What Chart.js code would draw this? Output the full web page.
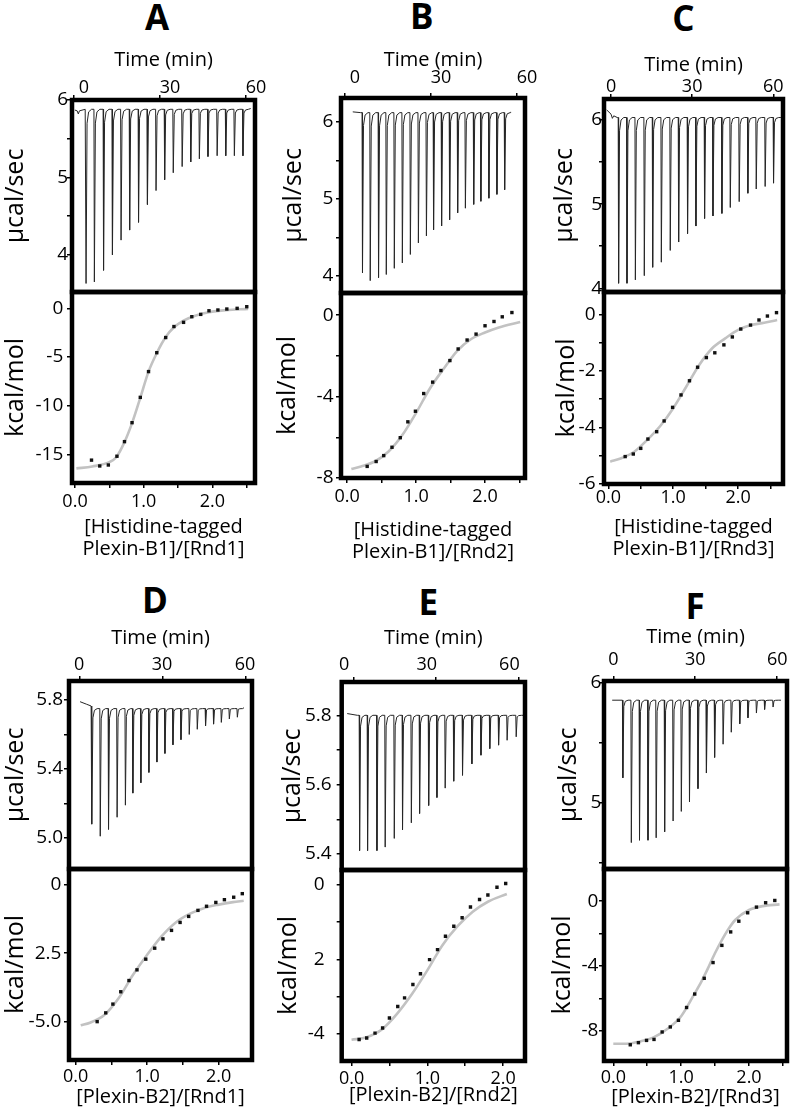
<!DOCTYPE html>
<html>
<head>
<meta charset="utf-8">
<script src="https://cdn.jsdelivr.net/npm/chart.js@4"></script>
<style>
  html, body { margin: 0; padding: 0; background: #fff; }
  body { width: 790px; height: 1110px; position: relative; overflow: hidden; font-family: 'Open Sans', sans-serif; }
  canvas { position: absolute; }
  .lbl { position: absolute; font-family: 'Open Sans', sans-serif; font-weight: 700; font-size: 35px; line-height: 35px; color: #000; transform: translateX(-50%); }
</style>
</head>
<body>
<script>
// ---------------- DATA ----------------
const panelLetters = ['A', 'B', 'C', 'D', 'E', 'F'];
const timeTickValues = [0, 30, 60];
const timeTickText = ['0', '30', '60'];
const ratioTickValues = [0, 1, 2];
const ratioTickText = ['0.0', '1.0', '2.0'];
const topTitle = 'Time (min)';
const topYTitle = 'µcal/sec';
const botYTitle = 'kcal/mol';
const xTitles = [
  ['[Histidine-tagged', 'Plexin-B1]/[Rnd1]'],
  ['[Histidine-tagged', 'Plexin-B1]/[Rnd2]'],
  ['[Histidine-tagged', 'Plexin-B1]/[Rnd3]'],
  '[Plexin-B2]/[Rnd1]',
  '[Plexin-B2]/[Rnd2]',
  '[Plexin-B2]/[Rnd3]'
];

// Panel A
const A_injTime = [4.1, 7.0, 10.2, 13.3, 16.3, 19.3, 22.4, 25.5, 28.5, 31.5, 34.5, 37.6, 40.6, 43.6, 46.6, 49.8, 52.8, 55.8, 58.8];
const A_injPeak = [3.63, 3.65, 3.80, 4.00, 4.19, 4.32, 4.42, 4.65, 4.83, 4.97, 5.06, 5.14, 5.20, 5.24, 5.27, 5.28, 5.28, 5.28, 5.28];
const A_baseline = 5.88;
const A_lead = [[0.3, 5.87], [1.1, 5.86], [1.5, 5.82], [1.9, 5.86], [3.9, 5.88]];
const A_tail = [[61.6, 5.89]];
const A_ratio = [0.24, 0.36, 0.485, 0.61, 0.72, 0.83, 0.95, 1.07, 1.19, 1.32, 1.44, 1.58, 1.70, 1.83, 1.95, 2.08, 2.21, 2.36, 2.50];
const A_heat = [-15.6, -16.2, -16.1, -15.2, -13.7, -11.75, -9.15, -6.5, -4.56, -3.0, -1.87, -1.44, -0.86, -0.62, -0.25, -0.17, -0.07, 0.0, 0.17];
const A_fitRatio = [0.02, 0.25, 0.5, 0.6, 0.72, 0.83, 0.95, 1.07, 1.19, 1.32, 1.44, 1.58, 1.75, 1.95, 2.2, 2.52];
const A_fitHeat = [-16.45, -16.25, -15.8, -15.3, -13.75, -11.8, -9.2, -6.5, -4.6, -2.95, -1.95, -1.25, -0.75, -0.4, -0.18, -0.05];
const A_ucalTicks = [6, 5, 4], A_ucalText = ['6', '5', '4'];
const A_kcalTicks = [0, -5, -10, -15], A_kcalText = ['0', '-5', '-10', '-15'];

// Panel B
const B_injTime = [6.0, 8.7, 11.6, 14.3, 17.1, 19.9, 22.7, 25.5, 28.3, 30.8, 33.6, 36.4, 39.2, 41.9, 44.8, 47.3, 50.1, 52.9, 55.6];
const B_injPeak = [4.04, 3.94, 3.98, 4.02, 4.10, 4.17, 4.28, 4.43, 4.52, 4.60, 4.65, 4.73, 4.82, 4.88, 4.93, 4.97, 5.01, 5.06, 5.12];
const B_baseline = 6.12;
const B_lead = [[2.7, 6.13], [5.5, 6.12]];
const B_tail = [[57.8, 6.13]];
const B_ratio = [0.29, 0.42, 0.53, 0.65, 0.77, 0.88, 0.99, 1.11, 1.24, 1.36, 1.49, 1.61, 1.74, 1.87, 2.0, 2.13, 2.25, 2.39];
const B_heat = [-7.43, -7.19, -6.9, -6.49, -6.02, -5.24, -4.72, -3.85, -3.29, -2.72, -2.23, -1.66, -1.22, -0.93, -0.52, -0.31, -0.08, 0.13];
const B_fitRatio = [0.06, 0.2, 0.4, 0.6, 0.8, 1.0, 1.2, 1.4, 1.6, 1.8, 2.0, 2.2, 2.51];
const B_fitHeat = [-7.56, -7.43, -7.19, -6.7, -5.89, -4.8, -3.6, -2.63, -1.74, -1.17, -0.85, -0.6, -0.33];
const B_ucalTicks = [6, 5, 4], B_ucalText = ['6', '5', '4'];
const B_kcalTicks = [0, -4, -8], B_kcalText = ['0', '-4', '-8'];

// Panel C
const C_injTime = [2.7, 5.8, 8.9, 12.2, 15.3, 18.5, 21.8, 24.9, 28.2, 31.3, 34.5, 37.6, 40.9, 44.0, 47.3, 50.5, 53.6, 56.9, 60.0];
const C_injPeak = [4.06, 4.06, 4.10, 4.15, 4.25, 4.31, 4.45, 4.55, 4.65, 4.74, 4.83, 4.86, 4.89, 4.96, 5.03, 5.13, 5.18, 5.21, 5.25];
const C_baseline = 6.03;
const C_lead = [[-1.6, 6.12], [0.0, 6.07], [0.5, 6.02], [1.0, 6.05], [2.3, 6.03]];
const C_tail = [[62.8, 6.03]];
const C_ratio = [0.26, 0.385, 0.50, 0.61, 0.745, 0.86, 0.99, 1.12, 1.25, 1.375, 1.51, 1.64, 1.78, 1.91, 2.04, 2.19, 2.32, 2.45, 2.59];
const C_heat = [-5.03, -4.94, -4.74, -4.41, -4.15, -3.77, -3.29, -2.85, -2.35, -1.87, -1.53, -1.36, -1.08, -0.8, -0.52, -0.38, -0.2, -0.06, 0.06];
const C_fitRatio = [0.03, 0.2, 0.4, 0.6, 0.8, 1.0, 1.2, 1.4, 1.6, 1.8, 2.0, 2.2, 2.4, 2.6];
const C_fitHeat = [-5.21, -5.09, -4.86, -4.44, -3.95, -3.32, -2.56, -1.79, -1.2, -0.85, -0.55, -0.38, -0.3, -0.2];
const C_ucalTicks = [6, 5, 4], C_ucalText = ['6', '5', '4'];
const C_kcalTicks = [0, -2, -4, -6], C_kcalText = ['0', '-2', '-4', '-6'];

// Panel D
const D_injTime = [4.2, 7.2, 10.2, 13.3, 16.3, 19.0, 21.9, 24.8, 27.7, 30.6, 33.5, 36.4, 39.4, 42.3, 45.3, 48.2, 51.0, 53.9, 56.8];
const D_injPeak = [5.08, 5.01, 5.05, 5.12, 5.19, 5.26, 5.32, 5.38, 5.44, 5.49, 5.54, 5.57, 5.60, 5.63, 5.65, 5.66, 5.67, 5.69, 5.70];
const D_baseline = 5.75;
const D_lead = [[0.0, 5.79], [2.4, 5.775], [4.0, 5.765]];
const D_tail = [[59.3, 5.755]];
const D_ratio = [0.30, 0.42, 0.52, 0.63, 0.745, 0.857, 0.98, 1.105, 1.22, 1.34, 1.46, 1.58, 1.71, 1.83, 1.96, 2.08, 2.21, 2.33];
const D_heat = [-5.0, -4.68, -4.36, -3.91, -3.5, -3.11, -2.72, -2.32, -1.98, -1.67, -1.38, -1.16, -0.94, -0.79, -0.65, -0.55, -0.46, -0.33];
const D_fitRatio = [0.07, 0.2, 0.4, 0.6, 0.8, 1.0, 1.2, 1.4, 1.6, 1.8, 2.0, 2.2, 2.35];
const D_fitHeat = [-5.13, -5.04, -4.76, -4.15, -3.3, -2.56, -1.89, -1.38, -1.06, -0.85, -0.73, -0.64, -0.59];
const D_ucalTicks = [5.8, 5.4, 5.0], D_ucalText = ['5.8', '5.4', '5.0'];
const D_kcalTicks = [0, -2.5, -5], D_kcalText = ['0', '2.5', '-5.0'];

// Panel E
const E_injTime = [2.2, 5.1, 8.5, 11.5, 14.8, 17.8, 21.0, 24.0, 27.3, 30.3, 33.3, 36.4, 39.6, 43.0, 46.3, 49.5, 52.7, 55.8, 59.1];
const E_injPeak = [5.41, 5.41, 5.41, 5.42, 5.445, 5.47, 5.49, 5.517, 5.54, 5.563, 5.59, 5.61, 5.627, 5.66, 5.685, 5.704, 5.714, 5.728, 5.738];
const E_baseline = 5.80;
const E_lead = [[-2.2, 5.805], [1.5, 5.80]];
const E_tail = [[61.8, 5.80]];
const E_ratio = [0.10, 0.20, 0.31, 0.41, 0.50, 0.61, 0.70, 0.81, 0.91, 1.03, 1.135, 1.24, 1.35, 1.46, 1.57, 1.69, 1.80, 1.92, 2.035];
const E_heat = [-4.16, -4.12, -3.99, -3.85, -3.58, -3.27, -3.04, -2.68, -2.39, -2.01, -1.74, -1.38, -1.11, -0.88, -0.59, -0.39, -0.27, -0.06, 0.04];
const E_fitRatio = [0.0, 0.2, 0.4, 0.6, 0.8, 1.0, 1.2, 1.4, 1.6, 1.8, 2.05];
const E_fitHeat = [-4.17, -4.1, -3.89, -3.47, -2.93, -2.3, -1.62, -1.11, -0.72, -0.45, -0.24];
const E_ucalTicks = [5.8, 5.6, 5.4], E_ucalText = ['5.8', '5.6', '5.4'];
const E_kcalTicks = [0, -2, -4], E_kcalText = ['0', '2', '-4'];

// Panel F
const F_injTime = [3.4, 6.5, 9.5, 12.6, 15.6, 18.7, 21.8, 24.8, 27.8, 30.9, 34.0, 37.0, 40.1, 43.1, 46.2, 49.2, 52.3, 55.3, 58.4];
const F_injPeak = [5.21, 4.67, 4.69, 4.69, 4.71, 4.76, 4.85, 4.93, 5.01, 5.12, 5.25, 5.38, 5.49, 5.59, 5.66, 5.71, 5.75, 5.78, 5.80];
const F_baseline = 5.857;
const F_lead = [[-0.4, 5.857]];
const F_tail = [[61.4, 5.857]];
const F_ratio = [0.25, 0.37, 0.49, 0.60, 0.72, 0.84, 0.96, 1.08, 1.20, 1.34, 1.47, 1.60, 1.73, 1.85, 1.98, 2.11, 2.245, 2.38];
const F_heat = [-8.86, -8.73, -8.59, -8.53, -8.07, -7.76, -7.35, -6.56, -5.73, -4.76, -3.79, -2.73, -1.9, -1.24, -0.72, -0.37, -0.1, 0.04];
const F_fitRatio = [0.0, 0.2, 0.4, 0.6, 0.8, 1.0, 1.2, 1.3, 1.4, 1.5, 1.6, 1.7, 1.8, 2.0, 2.2, 2.45];
const F_fitHeat = [-8.8, -8.8, -8.65, -8.39, -7.87, -7.1, -5.69, -4.95, -4.1, -3.2, -2.4, -1.7, -1.15, -0.55, -0.31, -0.2];
const F_ucalTicks = [6, 5], F_ucalText = ['6', '5'];
const F_kcalTicks = [0, -4, -8], F_kcalText = ['0', '-4', '-8'];

// ---------------- LAYOUT (positions / axis ranges) ----------------
const geo = {
  A: { L: 72, R: 255, T: 100, M: 292, B: 483, titleY: 60, xTitleY: 526.7, lines: 2, letter: [157, 17.5],
       tRange: [-0.7, 63.1], topY: [3.52, 6.0], topStep: 0.5, rRange: [-0.044, 2.62], botY: [-17.95, 1.68], botStep: 5,
       topTickPad: -2, labelOffset: 10, yTitleTop: 16, yTitleBot: 16, yPadTop: -1, yPadBot: 3.7, xPadBot: 4.7 },
  B: { L: 341, R: 525, T: 98, M: 293, B: 478, titleY: 60, xTitleY: 530, lines: 2, letter: [421.7, 16.7],
       tRange: [-1.4, 62.8], topY: [3.78, 6.31], topStep: 0.5, rRange: [-0.09, 2.58], botY: [-8, 1.09], botStep: 2,
       topTickPad: 5.7, labelOffset: 10, yTitleTop: 294, yTitleBot: 288, yPadTop: 2.7, yPadBot: 2.4, xPadBot: 5 },
  C: { L: 604, R: 783, T: 99, M: 292, B: 484, titleY: 65, xTitleY: 526.7, lines: 2, letter: [683.3, 18.3],
       tRange: [-2.6, 63.6], topY: [3.956, 6.25], topStep: 0.5, rRange: [-0.066, 2.69], botY: [-6, 0.79], botStep: 1,
       topTickPad: -2, labelOffset: 0, yTitleTop: 565, yTitleBot: 567, yPadTop: -3, yPadBot: 3.4, xPadBot: 0 },
  D: { L: 69, R: 252, T: 681, M: 869, B: 1060, titleY: 638.3, xTitleY: 1096.7, lines: 1, letter: [155, 600.8],
       tRange: [-4.0, 62.2], topY: [4.82, 5.91], topStep: 0.2, rRange: [-0.094, 2.466], botY: [-6.4, 0.57], botStep: 2.5,
       topTickPad: 1.7, labelOffset: -1, yTitleTop: 16, yTitleBot: 16, yPadTop: 1, yPadBot: 2.6, xPadBot: 2.7 },
  E: { L: 341.7, R: 525, T: 682, M: 870, B: 1061, titleY: 638.3, xTitleY: 1095, lines: 1, letter: [428.3, 602.5],
       tRange: [-4.2, 62.4], topY: [5.354, 5.896], topStep: 0.1, rRange: [-0.13, 2.29], botY: [-4.74, 0.405], botStep: 1,
       topTickPad: 2.7, labelOffset: -9, yTitleTop: 293, yTitleBot: 289, yPadTop: 5, yPadBot: 12, xPadBot: 3.6 },
  F: { L: 604, R: 787, T: 681, M: 869, B: 1061, titleY: 637.3, xTitleY: 1096.7, lines: 1, letter: [695, 606.7],
       tRange: [-3.4, 63.6], topY: [4.45, 6.017], topStep: 0.5, rRange: [-0.137, 2.56], botY: [-9.86, 1.98], botStep: 2,
       topTickPad: 6.7, labelOffset: 0, yTitleTop: 569, yTitleBot: 563, yPadTop: -2.3, yPadBot: 0.6, xPadBot: 2.6 }
};

// ---------------- BUILD ----------------
Chart.defaults.font.family = "'Open Sans', sans-serif";
Chart.defaults.color = '#000';

const panels = [
  { id: 'A', inj: [A_injTime, A_injPeak, A_baseline, A_lead, A_tail], pts: [A_ratio, A_heat], fit: [A_fitRatio, A_fitHeat], uc: [A_ucalTicks, A_ucalText], kc: [A_kcalTicks, A_kcalText] },
  { id: 'B', inj: [B_injTime, B_injPeak, B_baseline, B_lead, B_tail], pts: [B_ratio, B_heat], fit: [B_fitRatio, B_fitHeat], uc: [B_ucalTicks, B_ucalText], kc: [B_kcalTicks, B_kcalText] },
  { id: 'C', inj: [C_injTime, C_injPeak, C_baseline, C_lead, C_tail], pts: [C_ratio, C_heat], fit: [C_fitRatio, C_fitHeat], uc: [C_ucalTicks, C_ucalText], kc: [C_kcalTicks, C_kcalText] },
  { id: 'D', inj: [D_injTime, D_injPeak, D_baseline, D_lead, D_tail], pts: [D_ratio, D_heat], fit: [D_fitRatio, D_fitHeat], uc: [D_ucalTicks, D_ucalText], kc: [D_kcalTicks, D_kcalText] },
  { id: 'E', inj: [E_injTime, E_injPeak, E_baseline, E_lead, E_tail], pts: [E_ratio, E_heat], fit: [E_fitRatio, E_fitHeat], uc: [E_ucalTicks, E_ucalText], kc: [E_kcalTicks, E_kcalText] },
  { id: 'F', inj: [F_injTime, F_injPeak, F_baseline, F_lead, F_tail], pts: [F_ratio, F_heat], fit: [F_fitRatio, F_fitHeat], uc: [F_ucalTicks, F_ucalText], kc: [F_kcalTicks, F_kcalText] }
];

function tickText(values, texts) {
  return v => {
    const i = values.findIndex(t => Math.abs(t - v) < 1e-6);
    return i >= 0 ? texts[i] : '';
  };
}

function trace(times, peaks, base, lead, tail) {
  const p = lead.map(([x, y]) => ({ x, y }));
  times.forEach((t, i) => {
    const m = peaks[i], h = base - m;
    p.push({ x: t - 0.05, y: base }, { x: t + 0.1, y: m }, { x: t + 0.45, y: base - h * 0.08 },
           { x: t + 1.0, y: base - h * 0.015 }, { x: t + 2.0, y: base });
  });
  tail.forEach(([x, y]) => p.push({ x, y }));
  return p;
}

function xy(xs, ys) { return xs.map((x, i) => ({ x, y: ys[i] })); }

const boxPlugin = {
  id: 'box',
  afterDraw(chart) {
    const { ctx, chartArea: a } = chart;
    ctx.save();
    ctx.strokeStyle = '#000';
    ctx.lineWidth = 4.5;
    ctx.strokeRect(a.left, a.top, a.right - a.left, a.bottom - a.top);
    ctx.restore();
  }
};

function addCanvas(left, top, w, h) {
  const c = document.createElement('canvas');
  c.width = w; c.height = h;
  c.style.left = left + 'px'; c.style.top = top + 'px';
  c.style.width = w + 'px'; c.style.height = h + 'px';
  document.body.appendChild(c);
  return c;
}

const gridOpts = { drawOnChartArea: false, drawTicks: true, tickLength: 5, color: '#000', lineWidth: 1.5 };
const baseOpts = { responsive: false, animation: false, devicePixelRatio: 1, events: [] };

panels.forEach((P, idx) => {
  const g = geo[P.id];

  // letter
  const d = document.createElement('div');
  d.className = 'lbl';
  d.textContent = panelLetters[idx];
  d.style.left = g.letter[0] + 'px';
  d.style.top = (g.letter[1] - 18.6) + 'px';
  document.body.appendChild(d);

  // ---- top (raw heat) chart ----
  const cl = Math.floor(g.yTitleTop - 14.4);
  const ct = Math.floor(g.titleY - 12);
  const cr = Math.min(790, Math.ceil(g.R + 22));
  const cb = Math.ceil(g.M + 3);
  const Wt = g.L - cl, Ht = g.T - ct;
  const c1 = addCanvas(cl, ct, cr - cl, cb - ct);
  new Chart(c1, {
    type: 'line',
    data: { datasets: [{ data: trace(...P.inj), borderColor: '#262626', borderWidth: 1, pointRadius: 0, tension: 0 }] },
    options: Object.assign({}, baseOpts, {
      layout: { padding: { left: 0, top: 0, right: cr - g.R, bottom: cb - g.M }, autoPadding: false },
      plugins: { legend: { display: false }, tooltip: { enabled: false } },
      scales: {
        x: {
          type: 'linear', position: 'top', min: g.tRange[0], max: g.tRange[1],
          afterFit: s => { s.height = Ht; s.paddingLeft = 0; s.paddingRight = 0; },
          grid: gridOpts, border: { display: false },
          ticks: { stepSize: 30, includeBounds: false, autoSkip: false, maxRotation: 0, minRotation: 0,
                   padding: g.topTickPad, labelOffset: g.labelOffset, font: { size: 18, lineHeight: 1 }, color: '#000',
                   callback: tickText(timeTickValues, timeTickText) },
          title: { display: true, text: topTitle, font: { size: 20, lineHeight: 1.2 }, padding: 0, color: '#000' }
        },
        y: {
          type: 'linear', position: 'left', min: g.topY[0], max: g.topY[1],
          afterFit: s => { s.width = Wt; s.paddingTop = 0; s.paddingBottom = 0; },
          grid: gridOpts, border: { display: false },
          ticks: { stepSize: g.topStep, includeBounds: false, autoSkip: false, padding: g.yPadTop,
                   font: { size: 19, lineHeight: 1 }, color: '#000', callback: tickText(P.uc[0], P.uc[1]) },
          title: { display: true, text: topYTitle, font: { size: 25, lineHeight: 1.2 }, padding: 0, color: '#000' }
        }
      }
    }),
    plugins: [boxPlugin]
  });

  // ---- bottom (isotherm) chart ----
  const br = Math.min(790, Math.ceil(g.R + 6));
  const bl = Math.floor(g.yTitleBot - 14.4);
  const bt = Math.floor(g.M - 3);
  const bb = Math.ceil(g.xTitleY + 11 + (g.lines - 1) * 22);
  const Wb = g.L - bl, Hb = bb - g.B;
  const c2 = addCanvas(bl, bt, br - bl, bb - bt);
  new Chart(c2, {
    type: 'line',
    data: { datasets: [
      { data: xy(P.pts[0], P.pts[1]), showLine: false, pointStyle: 'rect', pointRadius: 2.4,
        pointBackgroundColor: '#111', pointBorderWidth: 0, order: 0 },
      { data: xy(P.fit[0], P.fit[1]), borderColor: '#c2c2c2', borderWidth: 2.6, pointRadius: 0,
        cubicInterpolationMode: 'monotone', order: 1 }
    ] },
    options: Object.assign({}, baseOpts, {
      layout: { padding: { left: 0, top: g.M - bt, right: br - g.R, bottom: 0 }, autoPadding: false },
      plugins: { legend: { display: false }, tooltip: { enabled: false } },
      scales: {
        x: {
          type: 'linear', position: 'bottom', min: g.rRange[0], max: g.rRange[1],
          afterFit: s => { s.height = Hb; s.paddingLeft = 0; s.paddingRight = 0; },
          grid: gridOpts, border: { display: false },
          ticks: { stepSize: 0.5, includeBounds: false, autoSkip: false, maxRotation: 0, minRotation: 0,
                   padding: g.xPadBot, font: { size: 18, lineHeight: 1 }, color: '#000',
                   callback: tickText(ratioTickValues, ratioTickText) },
          title: { display: true, text: xTitles[idx], font: { size: 20, lineHeight: 1.1 }, padding: 0, color: '#000' }
        },
        y: {
          type: 'linear', position: 'left', min: g.botY[0], max: g.botY[1],
          afterFit: s => { s.width = Wb; s.paddingTop = 0; s.paddingBottom = 0; },
          grid: gridOpts, border: { display: false },
          ticks: { stepSize: g.botStep, includeBounds: false, autoSkip: false, padding: g.yPadBot,
                   font: { size: 19, lineHeight: 1 }, color: '#000', callback: tickText(P.kc[0], P.kc[1]) },
          title: { display: true, text: botYTitle, font: { size: 25, lineHeight: 1.2 }, padding: 0, color: '#000' }
        }
      }
    }),
    plugins: [boxPlugin]
  });
});
</script>
</body>
</html>
